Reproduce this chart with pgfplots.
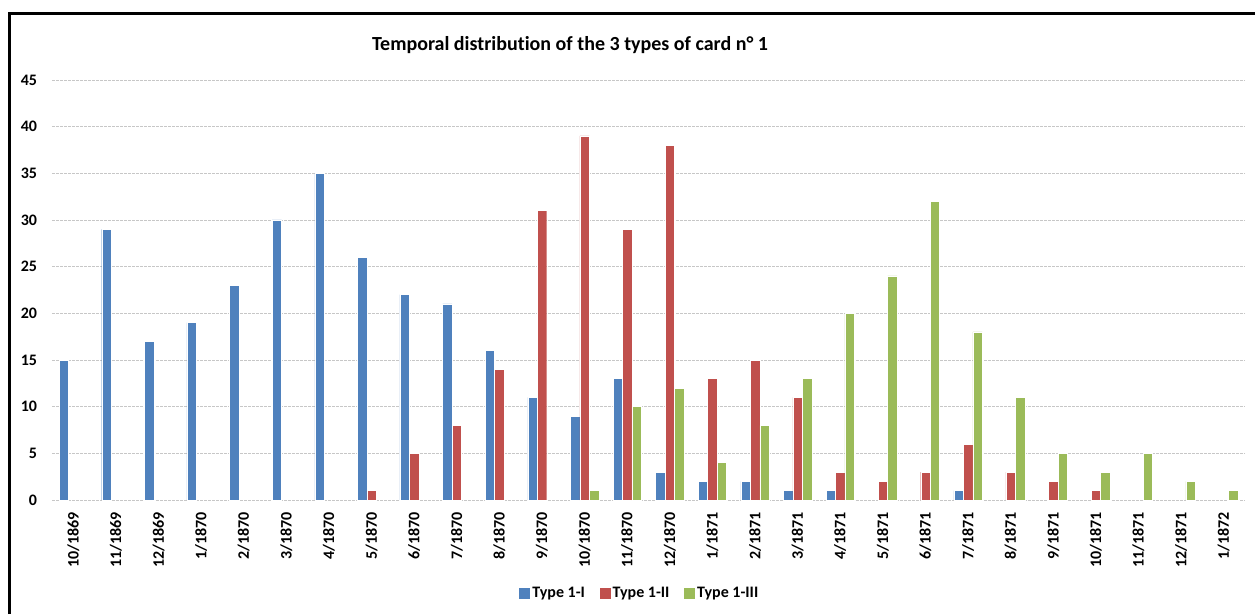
\documentclass[border=0pt]{standalone}
\usepackage{fontspec}
\setmainfont{Carlito}[Ligatures=NoCommon]
\usepackage{pgfplots}
\pgfplotsset{compat=1.18}
\definecolor{cblue}{HTML}{4F81BD}
\definecolor{cred}{HTML}{C0504D}
\definecolor{cgreen}{HTML}{9BBB59}
\begin{document}
\begin{tikzpicture}
\useasboundingbox (0,0) rectangle (941.25pt,460.5pt);
\draw[line width=2.25pt] (6.75pt,0) -- (6.75pt,450pt) -- (945pt,450pt);
\node[font=\fontsize{15pt}{18pt}\selectfont\bfseries] at (427.5pt,426.75pt) {Temporal distribution of the 3 types of card n° 1};
\begin{axis}[
  at={(39pt,85.5pt)}, anchor=south west,
  scale only axis, width=894.75pt, height=315pt,
  ybar=0pt, bar width=7.1pt,
  xmin=-0.5, xmax=27.5, ymin=0, ymax=45,
  ytick={0,5,...,45},
  xtick={0,...,27},
  xticklabels={10/1869,11/1869,12/1869,1/1870,2/1870,3/1870,4/1870,5/1870,6/1870,7/1870,8/1870,9/1870,10/1870,11/1870,12/1870,1/1871,2/1871,3/1871,4/1871,5/1871,6/1871,7/1871,8/1871,9/1871,10/1871,11/1871,12/1871,1/1872},
  /pgf/number format/assume math mode=true,
  tick label style={font=\fontsize{12pt}{14pt}\selectfont\bfseries, inner sep=0pt},
  xticklabel style={rotate=90, anchor=east},
  yticklabel style={anchor=east},
  xticklabel shift=9pt, yticklabel shift=11pt,
  major tick length=0pt,
  axis line style={draw=none},
  ymajorgrids,
  major grid style={black!22, dash pattern=on 2pt off 1pt, line width=0.7pt},
  legend columns=3,
  legend style={draw=none, at={(axis description cs:0.493,-0.221)}, anchor=center,
    font=\fontsize{12pt}{14pt}\selectfont\bfseries,
    /tikz/every even column/.append style={column sep=9pt},
    /tikz/every odd column/.append style={column sep=0pt}},
]
\addplot[fill=cblue, draw=white, line width=0.3pt,
  legend image code/.code={\fill[cblue] (0pt,-3.75pt) rectangle (7.5pt,3.75pt);}]
  coordinates {(0,15)(1,29)(2,17)(3,19)(4,23)(5,30)(6,35)(7,26)(8,22)(9,21)(10,16)(11,11)(12,9)(13,13)(14,3)(15,2)(16,2)(17,1)(18,1)(21,1)};
\addplot[fill=cred, draw=white, line width=0.3pt,
  legend image code/.code={\fill[cred] (0pt,-3.75pt) rectangle (7.5pt,3.75pt);}]
  coordinates {(7,1)(8,5)(9,8)(10,14)(11,31)(12,39)(13,29)(14,38)(15,13)(16,15)(17,11)(18,3)(19,2)(20,3)(21,6)(22,3)(23,2)(24,1)};
\addplot[fill=cgreen, draw=white, line width=0.3pt,
  legend image code/.code={\fill[cgreen] (0pt,-3.75pt) rectangle (7.5pt,3.75pt);}]
  coordinates {(12,1)(13,10)(14,12)(15,4)(16,8)(17,13)(18,20)(19,24)(20,32)(21,18)(22,11)(23,5)(24,3)(25,5)(26,2)(27,1)};
\legend{Type 1-I, Type 1-II, Type 1-III}
\end{axis}
\end{tikzpicture}
\end{document}
